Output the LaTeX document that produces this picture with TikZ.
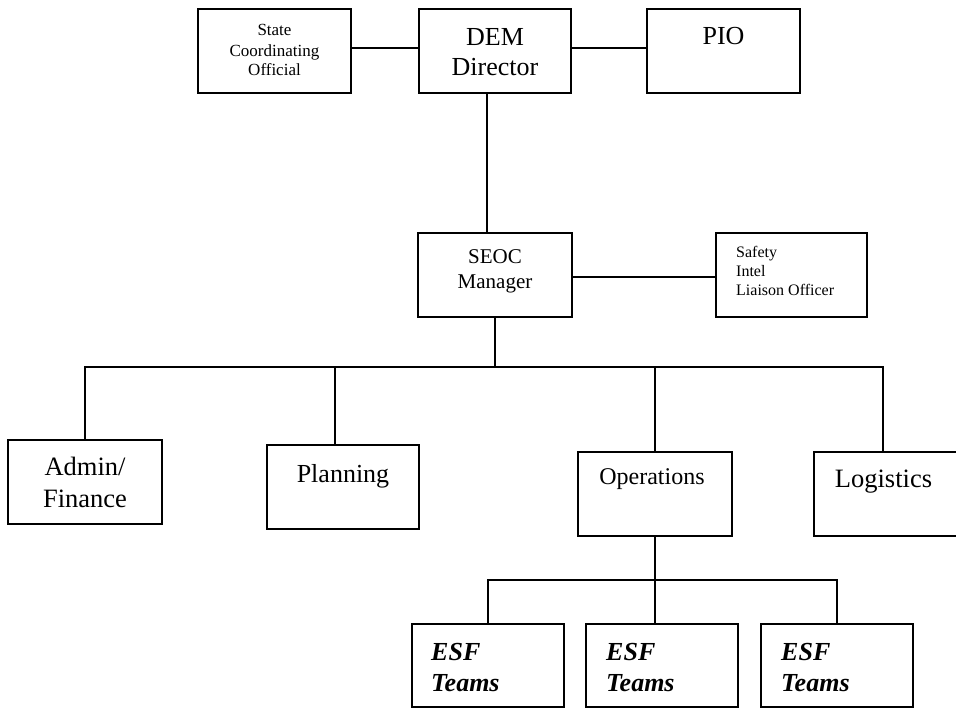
\documentclass[tikz,border=0pt]{standalone}
\usepackage{fontspec}
\setmainfont{Liberation Serif}
\begin{document}
\begin{tikzpicture}[x=1pt,y=-1pt,
  box/.style={draw=black, line width=1.8pt, rectangle, inner sep=0pt, minimum height=84pt},
  conn/.style={draw=black, line width=1.8pt},
  txt/.style={inner sep=0pt, anchor=base, align=center},
  ltxt/.style={inner sep=0pt, anchor=base west, align=left}]
\useasboundingbox (0,0) rectangle (956,709);
\clip (0,0) rectangle (956,709);
% boxes
\node[box, minimum width=153pt] (state) at (274.5,51) {};
\node[box, minimum width=152pt] (dem) at (495,51) {};
\node[box, minimum width=153pt] (pio) at (723.5,51) {};
\node[box, minimum width=154pt] (seoc) at (495,275) {};
\node[box, minimum width=151pt] (safety) at (791.5,275) {};
\node[box, minimum width=154pt] (admin) at (85,482) {};
\node[box, minimum width=152pt] (planning) at (343,487) {};
\node[box, minimum width=154pt] (ops) at (655,494) {};
\node[box, minimum width=154pt] (logistics) at (891,494) {};
\node[box, minimum width=152pt, minimum height=83pt] (esfa) at (488,665.5) {};
\node[box, minimum width=152pt, minimum height=83pt] (esfb) at (662,665.5) {};
\node[box, minimum width=152pt, minimum height=83pt] (esfc) at (837,665.5) {};
% texts (anchor = baseline of the last line)
\node[txt, font=\fontsize{17}{20}\selectfont] (tstate) at (274.5,76) {State\\Coordinating\\Official};
\node[txt, font=\fontsize{26}{31}\selectfont] (tdem) at (495,76) {DEM\\Director};
\node[txt, font=\fontsize{26}{31}\selectfont] (tpio) at (723.5,45) {PIO};
\node[txt, font=\fontsize{21}{25}\selectfont] (tseoc) at (495,288) {SEOC\\Manager};
\node[ltxt, font=\fontsize{16}{19}\selectfont] (tsafety) at (736,295) {Safety\\Intel\\Liaison Officer};
\node[txt, font=\fontsize{26.5}{32}\selectfont] (tadmin) at (85,507) {Admin/\\Finance};
\node[txt, font=\fontsize{26}{31}\selectfont] (tplanning) at (343,482) {Planning};
\node[txt, font=\fontsize{24}{29}\selectfont] (tops) at (652,484) {Operations};
\node[txt, font=\fontsize{26.5}{32}\selectfont] (tlog) at (883.5,487) {Logistics};
\node[ltxt, font=\fontsize{26}{31}\selectfont\bfseries\itshape] (tesfa) at (431,691) {ESF\\Teams};
\node[ltxt, font=\fontsize{26}{31}\selectfont\bfseries\itshape] (tesfb) at (606,691) {ESF\\Teams};
\node[ltxt, font=\fontsize{26}{31}\selectfont\bfseries\itshape] (tesfc) at (781,691) {ESF\\Teams};
% connectors
\draw[conn] ([yshift=3pt]state.east) -- ([yshift=3pt]dem.west);
\draw[conn] ([yshift=3pt]dem.east) -- ([yshift=3pt]pio.west);
\draw[conn] ([xshift=-8pt]dem.south) -- ([xshift=-8pt]seoc.north);
\draw[conn] ([yshift=-2pt]seoc.east) -- ([yshift=-2pt]safety.west);
\coordinate (busl) at (85,367);
\coordinate (busr) at (883,367);
\draw[conn] (seoc.south) -- (seoc.south |- busl);
\draw[conn] (admin.north) -- (busl) -- (busr) -- ([xshift=-8pt]logistics.north);
\draw[conn] ([xshift=-8pt]planning.north) -- ([xshift=-8pt]planning.north |- busl);
\draw[conn] (ops.north) -- (ops.north |- busl);
\coordinate (ebus) at (655,580);
\draw[conn] (ops.south) -- ([xshift=-7pt]esfb.north);
\draw[conn] (esfa.north) -- (esfa.north |- ebus) -- (esfc.north |- ebus) -- (esfc.north);
\end{tikzpicture}
\end{document}
